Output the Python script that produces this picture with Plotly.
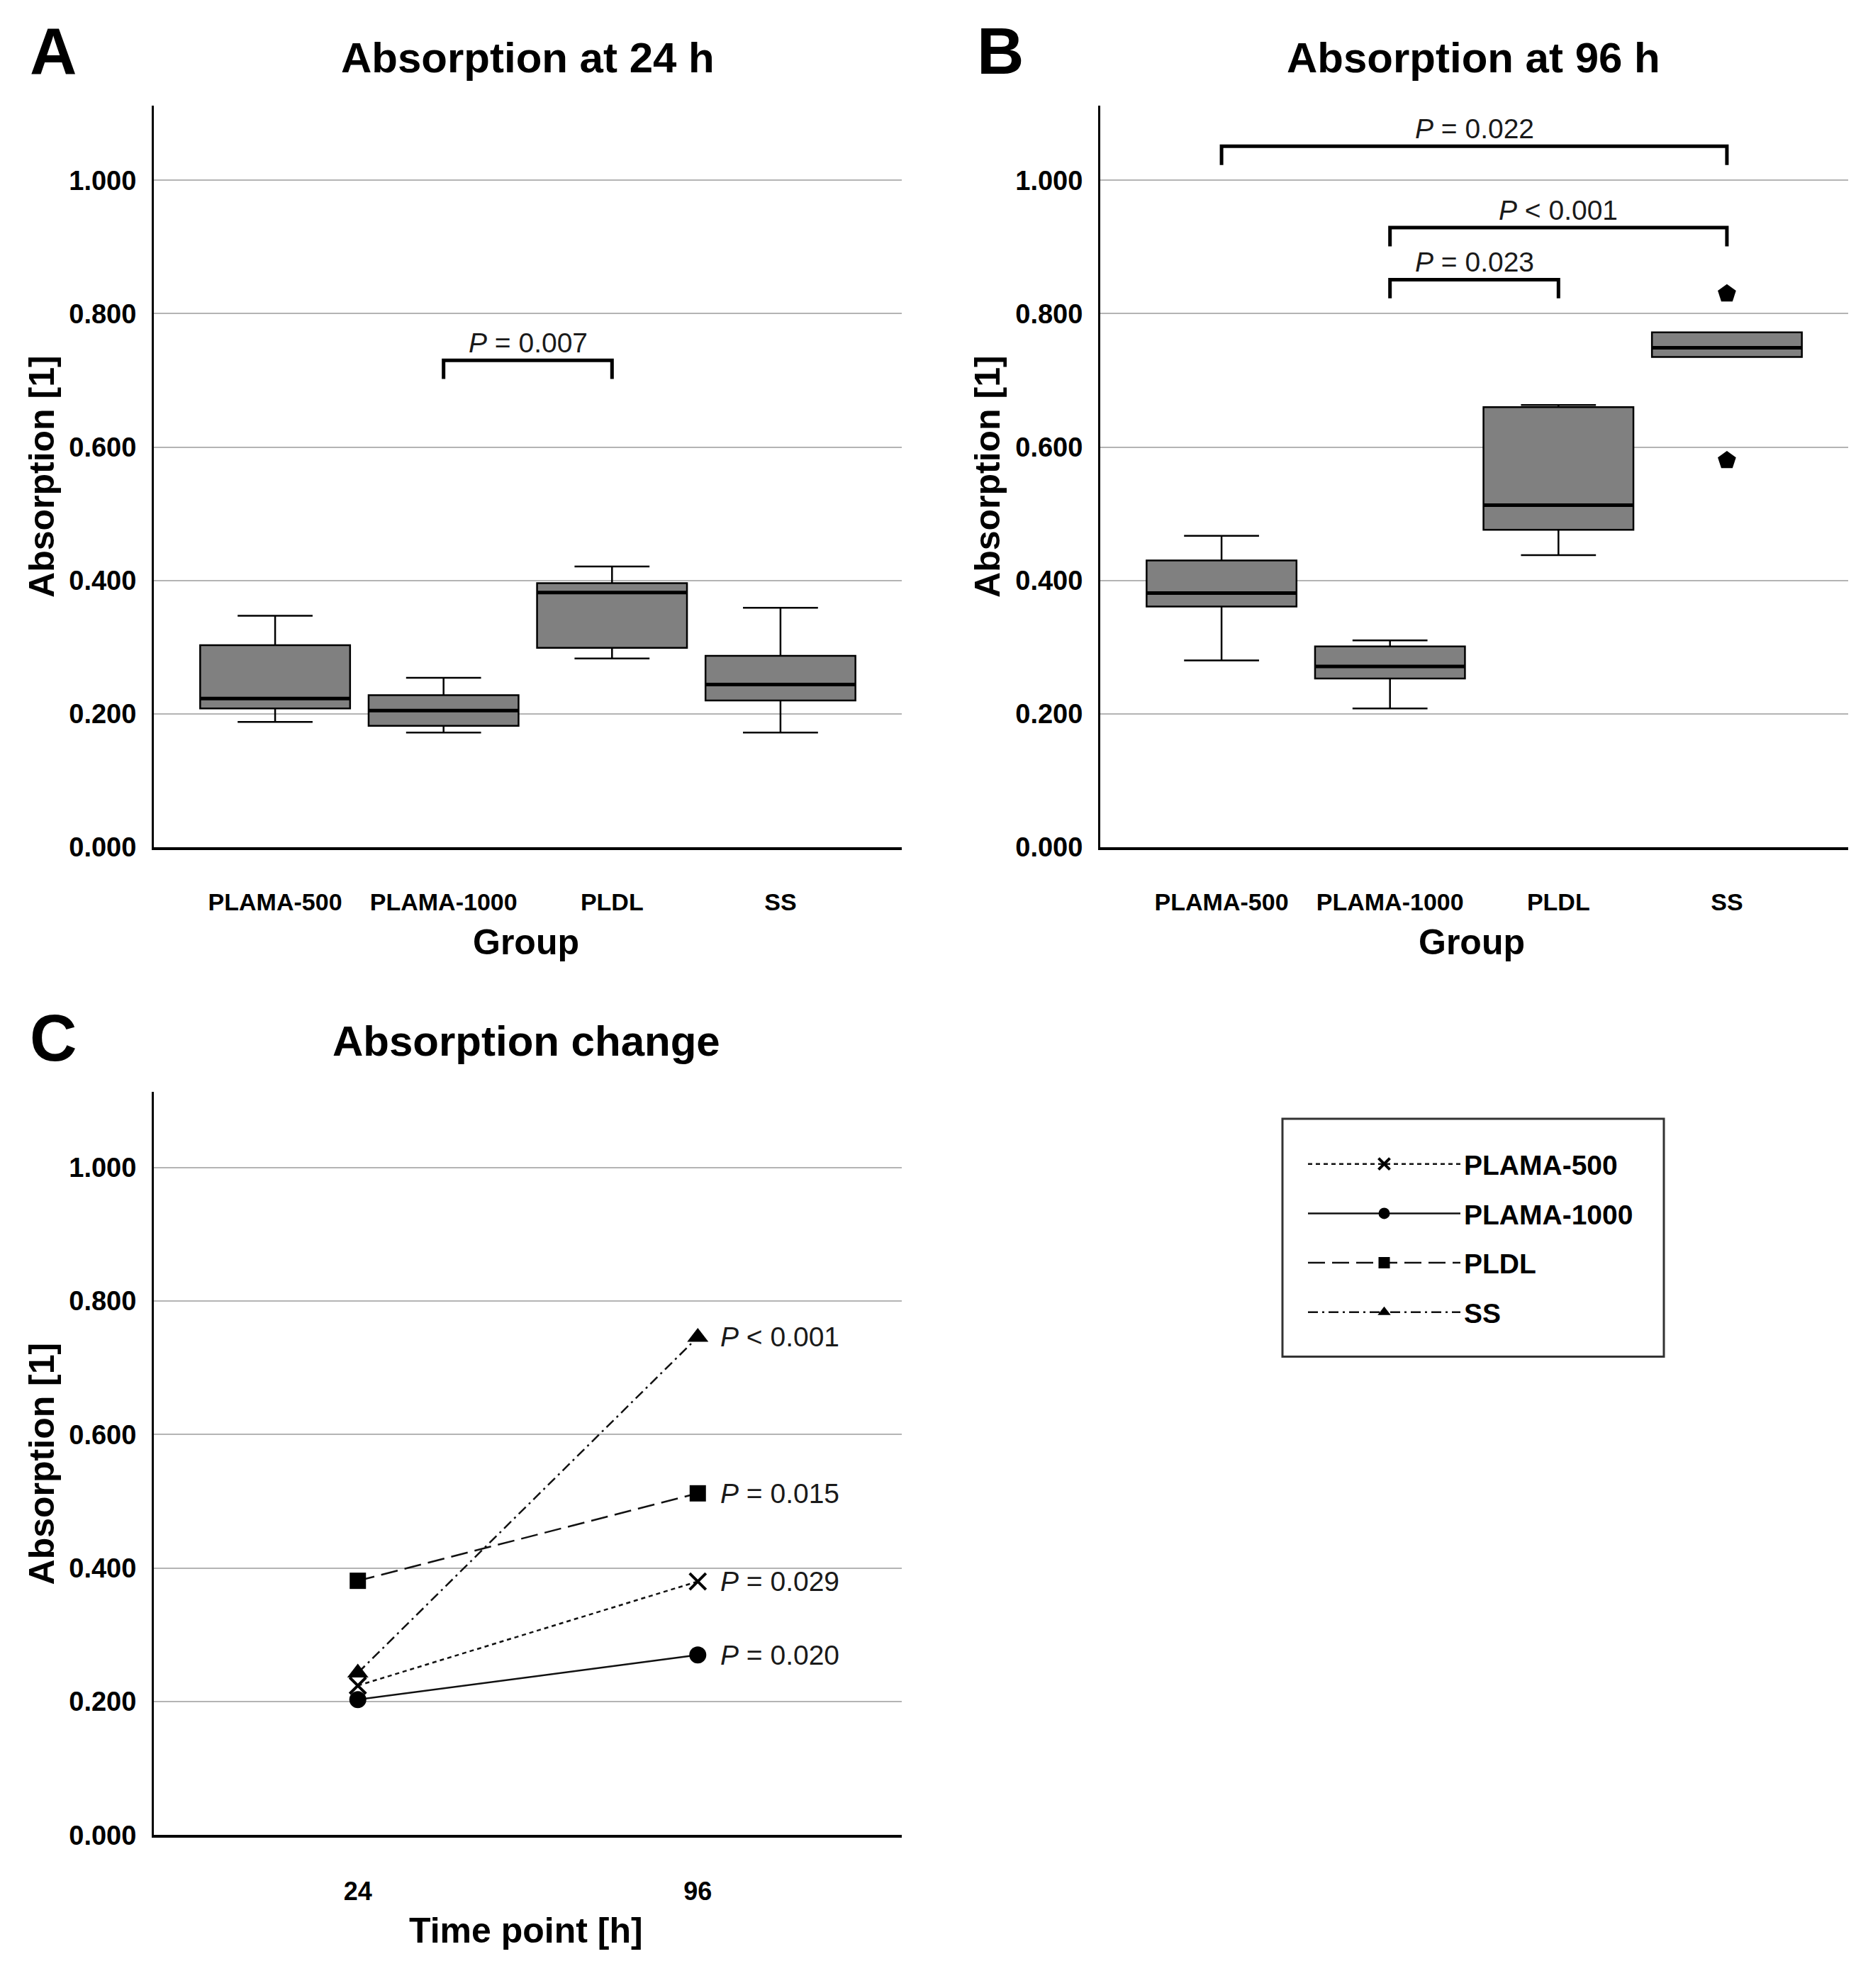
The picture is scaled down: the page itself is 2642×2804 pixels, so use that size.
import plotly.graph_objects as go

FONT = "Liberation Sans, Arial, sans-serif"
PAGE_W, PAGE_H = 2642, 2804
OFF = 8  # default body margin of the written html page
W, H = PAGE_W - 2 * OFF, PAGE_H - 2 * OFF  # figure fits the window exactly

# ---------------- data ----------------
groups = ["PLAMA-500", "PLAMA-1000", "PLDL", "SS"]

# Absorption at 24 h (box statistics)
lower_24 = [0.188, 0.172, 0.283, 0.172]
q1_24 = [0.208, 0.182, 0.299, 0.220]
median_24 = [0.223, 0.205, 0.382, 0.244]
q3_24 = [0.303, 0.228, 0.396, 0.287]
upper_24 = [0.347, 0.254, 0.421, 0.359]

# Absorption at 96 h (box statistics)
lower_96 = [0.280, 0.208, 0.438, 0.735]
q1_96 = [0.361, 0.253, 0.476, 0.735]
median_96 = [0.381, 0.271, 0.513, 0.749]
q3_96 = [0.430, 0.301, 0.660, 0.772]
upper_96 = [0.467, 0.310, 0.663, 0.772]

outlier_groups_96 = ["SS", "SS"]
outlier_values_96 = [0.830, 0.580]

# significance brackets: (from group, to group, bracket level, label)
brackets_24 = [("PLAMA-1000", "PLDL", 0.730, "<i>P</i> = 0.007")]
brackets_96 = [
    ("PLAMA-500", "SS", 1.051, "<i>P</i> = 0.022"),
    ("PLAMA-1000", "SS", 0.929, "<i>P</i> < 0.001"),
    ("PLAMA-1000", "PLDL", 0.851, "<i>P</i> = 0.023"),
]

# Absorption change (medians)
time_points = ["24", "96"]
change_plama500 = [0.224, 0.380]
change_plama1000 = [0.203, 0.270]
change_pldl = [0.381, 0.512]
change_ss = [0.243, 0.746]
change_p = ["<i>P</i> = 0.029", "<i>P</i> = 0.020", "<i>P</i> = 0.015", "<i>P</i> < 0.001"]

tick_vals = [0.0, 0.2, 0.4, 0.6, 0.8, 1.0]

# ---------------- styling ----------------
BOX_W = 0.89
BOX_FILL = "#808080"
GRID = "#b4b4b4"
LEG_DROP = 0.028


def px_x(p):
    return (p - OFF) / W


def px_y(p):
    return 1 - (p - OFF) / H


fig = go.Figure()

pos = list(range(len(groups)))


def add_boxes(lower, q1, med, q3, upper, xa, ya):
    fig.add_trace(go.Box(
        x=pos, q1=q1, median=med, q3=q3, lowerfence=lower, upperfence=upper,
        width=BOX_W, fillcolor=BOX_FILL, line=dict(color="black", width=2.5),
        whiskerwidth=0.5, boxpoints=False, showlegend=False, hoverinfo="skip",
        xaxis=xa, yaxis=ya))
    mx, my = [], []
    for i, m in zip(pos, med):
        mx += [i - BOX_W / 2, i + BOX_W / 2, None]
        my += [m, m, None]
    fig.add_trace(go.Scatter(x=mx, y=my, mode="lines", line=dict(color="black", width=5),
                             showlegend=False, hoverinfo="skip", xaxis=xa, yaxis=ya))


add_boxes(lower_24, q1_24, median_24, q3_24, upper_24, "x", "y")
add_boxes(lower_96, q1_96, median_96, q3_96, upper_96, "x2", "y2")

fig.add_trace(go.Scatter(
    x=[groups.index(g) for g in outlier_groups_96], y=outlier_values_96, mode="markers",
    marker=dict(symbol="pentagon", size=27, color="black"),
    showlegend=False, hoverinfo="skip", xaxis="x2", yaxis="y2"))

shapes = []
annotations = []


def add_brackets(brackets, xref, yref):
    for g0, g1, lvl, label in brackets:
        x0, x1 = groups.index(g0), groups.index(g1)
        shapes.append(dict(
            type="path", xref=xref, yref=yref,
            path=f"M {x0},{lvl - LEG_DROP} L {x0},{lvl} L {x1},{lvl} L {x1},{lvl - LEG_DROP}",
            line=dict(color="black", width=5)))
        annotations.append(dict(
            x=(x0 + x1) / 2, y=lvl, xref=xref, yref=yref, text=label, showarrow=False,
            yanchor="bottom", yshift=1, font=dict(family=FONT, size=39, color="#1a1a1a")))


add_brackets(brackets_24, "x", "y")
add_brackets(brackets_96, "x2", "y2")

# Panel C lines
series = [
    ("PLAMA-500", change_plama500, "6px,5px", "x-thin", 23),
    ("PLAMA-1000", change_plama1000, "solid", "circle", 24),
    ("PLDL", change_pldl, "24px,10px", "square", 23),
    ("SS", change_ss, "14px,6px,3px,6px", "triangle-up", 26),
]
for name, vals, dash, sym, size in series:
    fig.add_trace(go.Scatter(
        x=time_points, y=vals, mode="lines+markers", name=name, legendgroup=name,
        line=dict(color="#111111", width=2.5, dash=dash),
        marker=dict(symbol=sym, size=size, color="black",
                    line=dict(color="black", width=4 if sym == "x-thin" else 0)),
        xaxis="x3", yaxis="y3", hoverinfo="skip"))

last_idx = len(time_points) - 1
for (name, vals, *_), ptxt in zip(series, change_p):
    annotations.append(dict(
        x=last_idx, y=vals[last_idx], xref="x3", yref="y3", text=ptxt, showarrow=False,
        xanchor="left", xshift=30, font=dict(family=FONT, size=39, color="#1a1a1a")))

# ---------------- axes ----------------
xA = [px_x(217), px_x(1272)]
xB = [px_x(1552), px_x(2607)]
yAB = [px_y(1204), px_y(150)]
yC = [px_y(2608), px_y(1552)]


def xaxis_cfg(domain, anchor, size=34, **kw):
    d = dict(domain=domain, anchor=anchor, showline=True, linecolor="black", linewidth=4,
             showgrid=False, zeroline=False, ticks="", ticklabelstandoff=44,
             tickfont=dict(family=FONT, size=size, color="black", weight="bold"))
    d.update(kw)
    return d


def yaxis_cfg(domain, anchor, top):
    return dict(domain=domain, anchor=anchor, range=[0, top], tickvals=tick_vals,
                tickformat=".3f", showline=True, linecolor="black", linewidth=3,
                showgrid=True, gridcolor=GRID, gridwidth=2, zeroline=False, ticks="",
                ticklabelstandoff=14,
                tickfont=dict(family=FONT, size=38, color="black", weight="bold"))


fig.update_layout(
    xaxis=xaxis_cfg(xA, "y", range=[-0.72, 3.72], tickvals=pos, ticktext=groups),
    yaxis=yaxis_cfg(yAB, "x", 1.112),
    xaxis2=xaxis_cfg(xB, "y2", range=[-0.72, 3.72], tickvals=pos, ticktext=groups),
    yaxis2=yaxis_cfg(yAB, "x2", 1.112),
    xaxis3=xaxis_cfg(xA, "y3", size=36, type="category", range=[-0.6, 1.6]),
    yaxis3=yaxis_cfg(yC, "x3", 1.113),
)


# ---------------- titles / labels ----------------
def label(text, x, y, size, angle=0, weight="bold"):
    annotations.append(dict(x=px_x(x), y=px_y(y), xref="paper", yref="paper", text=text,
                            showarrow=False, textangle=angle, xanchor="center", yanchor="middle",
                            font=dict(family=FONT, size=size, color="black", weight=weight)))


label("A", 75, 72, 92)
label("B", 1411, 72, 92)
label("C", 75, 1475, 92)
label("Absorption at 24 h", 744, 82, 60)
label("Absorption at 96 h", 2078, 82, 60)
label("Absorption change", 742, 1480, 60)
label("Absorption [1]", 59, 677, 50, angle=-90)
label("Absorption [1]", 1393, 677, 50, angle=-90)
label("Absorption [1]", 59, 2080, 50, angle=-90)
label("Group", 742, 1339, 50)
label("Group", 2076, 1339, 50)
label("Time point [h]", 742, 2744, 50)

# legend frame
shapes.append(dict(type="rect", xref="paper", yref="paper",
                   x0=px_x(1809), x1=px_x(2347), y0=px_y(1928), y1=px_y(1590),
                   line=dict(color="#333333", width=3), fillcolor="rgba(0,0,0,0)"))

fig.update_layout(
    width=W, height=H, margin=dict(l=0, r=0, t=0, b=0),
    paper_bgcolor="white", plot_bgcolor="white",
    shapes=shapes, annotations=annotations,
    showlegend=True,
    legend=dict(x=px_x(1840), y=px_y(1622), xanchor="left", yanchor="top",
                bgcolor="rgba(0,0,0,0)", borderwidth=0, itemwidth=215,
                tracegroupgap=16, itemclick=False,
                font=dict(family=FONT, size=39, color="black", weight="bold")),
)

fig.write_html("out.html")
